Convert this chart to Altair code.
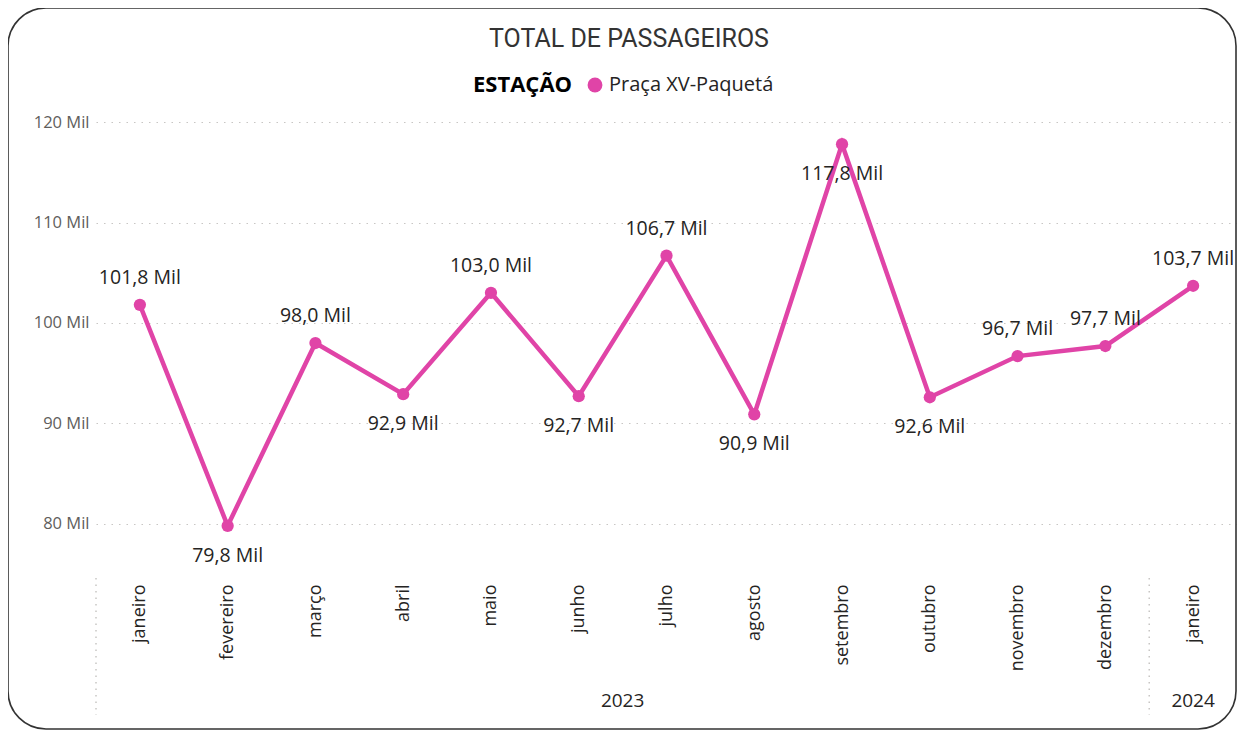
import json
import altair as alt
import pandas as pd

# ---- data ----
months = ["janeiro", "fevereiro", "março", "abril", "maio", "junho", "julho",
          "agosto", "setembro", "outubro", "novembro", "dezembro", "janeiro"]
years = [2023] * 12 + [2024]
passengers = [101800, 79800, 98000, 92900, 103000, 92700, 106700,
              90900, 117800, 92600, 96700, 97700, 103700]
station = "Praça XV-Paquetá"
chart_title = "TOTAL DE PASSAGEIROS"
legend_title = "ESTAÇÃO"
y_ticks = [80000, 90000, 100000, 110000, 120000]

LINE = "#E044A7"
TEXT = "#252423"
GRID = "#C8C6C4"
FONT = "Open Sans"

n = len(months)
below = []
for i, v in enumerate(passengers):
    prev = passengers[i - 1] if i > 0 else None
    nxt = passengers[i + 1] if i < n - 1 else None
    is_min = (prev is None or v < prev) and (nxt is None or v < nxt)
    below.append(bool(is_min or v > 115000))

df = pd.DataFrame({
    "idx": list(range(n)),
    "month": months,
    "year": years,
    "value": passengers,
    "station": [station] * n,
    "below": below,
})

W, H = 1141, 472
month_expr = json.dumps(months, ensure_ascii=False) + "[datum.value]"

x_enc = alt.X("idx:Q",
              scale=alt.Scale(domain=[-0.5, n - 0.5], nice=False, zero=False),
              axis=alt.Axis(values=list(range(n)), labelExpr=month_expr,
                            labelAngle=270, labelFlush=False, labelOverlap=False,
                            labelBound=False, domain=False, ticks=False, grid=False,
                            labelFont=FONT, labelFontSize=18, labelColor=TEXT,
                            labelPadding=10, title=None))
y_enc = alt.Y("value:Q",
              scale=alt.Scale(domain=[75000, 122000], nice=False, zero=False),
              axis=alt.Axis(values=y_ticks,
                            labelExpr="format(datum.value / 1000, 'd') + ' Mil'",
                            domain=False, ticks=False, grid=True,
                            gridColor=GRID, gridDash=[1.5, 6], gridWidth=1.2,
                            labelFont=FONT, labelFontSize=16.5, labelColor="#605E5C",
                            labelPadding=7, title=None))

base = alt.Chart(df)

color_enc = alt.Color("station:N",
                      scale=alt.Scale(domain=[station], range=[LINE]),
                      legend=alt.Legend(title=legend_title, orient="none",
                                        legendX=377, legendY=-27,
                                        direction="horizontal", titleOrient="left",
                                        titleFont=FONT, titleFontSize=22,
                                        titleFontWeight="bold", titleColor="#000000",
                                        titlePadding=12, titleBaseline="middle",
                                        labelFont=FONT, labelFontSize=20,
                                        labelColor=TEXT, labelLimit=0,
                                        symbolType="circle",
                                        symbolSize=220, symbolStrokeWidth=0,
                                        labelOffset=4))

line = base.mark_line(strokeWidth=4.5).encode(x=x_enc, y=y_enc, color=color_enc)
points = base.mark_point(filled=True, size=150, opacity=1).encode(
    x=x_enc, y=y_enc, color=alt.Color("station:N", legend=None,
                                      scale=alt.Scale(domain=[station], range=[LINE])))

lab = base.transform_calculate(
    label="replace(format(datum.value / 1000, '.1f'), '.', ',') + ' Mil'")
labels_above = lab.transform_filter("!datum.below").mark_text(
    dy=-27, font=FONT, fontSize=19.5, color=TEXT).encode(x="idx:Q", y="value:Q", text="label:N")
labels_below = lab.transform_filter("datum.below").mark_text(
    dy=30, font=FONT, fontSize=19.5, color=TEXT).encode(x="idx:Q", y="value:Q", text="label:N")

yrs = base.transform_aggregate(
    mid="mean(idx)", start="min(idx)", groupby=["year"]
).transform_calculate(sep="datum.start - 0.5")

year_text = yrs.mark_text(font=FONT, fontSize=19, color=TEXT).encode(
    x="mid:Q", y=alt.value(H + 127), text="year:N")
separators = yrs.mark_rule(strokeDash=[1.5, 5], color=GRID, strokeWidth=1.5).encode(
    x="sep:Q", y=alt.value(H + 4), y2=alt.value(H + 141))

title_df = pd.DataFrame({"t": [chart_title]})
title = alt.Chart(title_df).mark_text(font="Roboto", fontSize=25, color="#333333").encode(
    text="t:N", x=alt.value(533), y=alt.value(-63))

border = alt.Chart(title_df).mark_rect(
    fill=None, stroke="#333333", strokeWidth=1.6, cornerRadius=38).encode(
    x=alt.value(-88), x2=alt.value(W - 1), y=alt.value(-94), y2=alt.value(627))

chart = alt.layer(border, separators, line, points, labels_above, labels_below,
                  year_text, title).properties(
    width=W, height=H,
    autosize=alt.AutoSizeParams(type="none"),
    padding={"left": 88, "top": 94, "right": 0, "bottom": 156},
    background="white",
).configure_view(stroke=None)

chart.save("out.html", embed_options={"renderer": "svg", "actions": False})
